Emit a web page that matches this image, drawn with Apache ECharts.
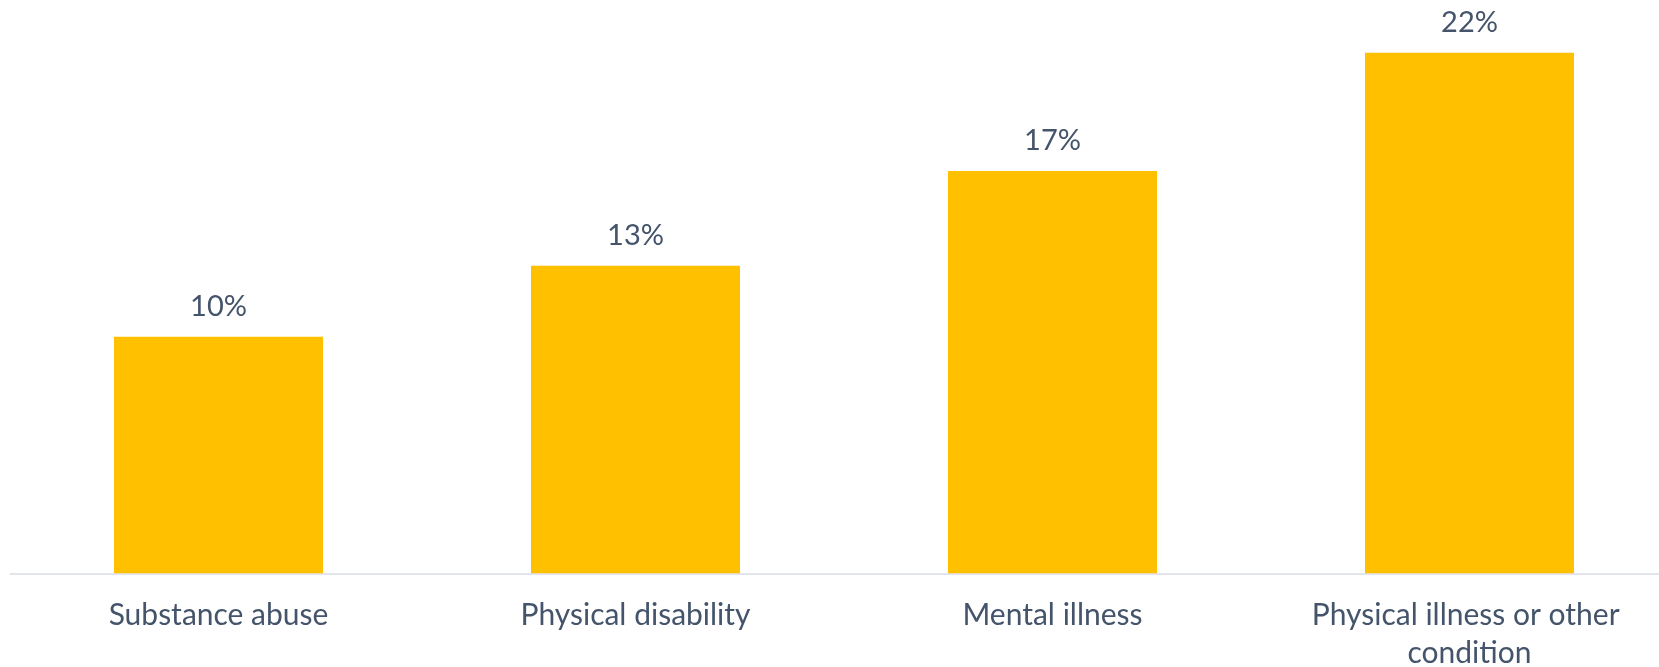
<!DOCTYPE html>
<html><head><meta charset="utf-8">
<script src="https://cdn.jsdelivr.net/npm/echarts@6/dist/echarts.min.js"></script>
<style>html,body{margin:0;padding:0;background:#fff}#c{width:1659px;height:667px}</style>
</head><body><div id="c"></div>
<script>
const categories = ["Substance abuse", "Physical disability", "Mental illness", "Physical illness or other condition"];
const values = [10, 13, 17, 22];

const chart = echarts.init(document.getElementById('c'), null, {renderer: 'canvas'});
chart.setOption({
  animation: false,
  grid: {left: 10, width: 1668, top: 5.5, bottom: 93.7, containLabel: false, outerBoundsMode: 'none'},
  xAxis: {
    type: 'category', data: categories,
    axisLine: {lineStyle: {color: '#D9DEE6', width: 1.5}},
    axisTick: {show: false},
    axisLabel: {color: '#44546A', fontFamily: 'Lato', fontSize: 30, margin: 23, lineHeight: 38,
      width: 360, overflow: 'break', interval: 0}
  },
  yAxis: {type: 'value', min: 0, max: 24, show: false, splitLine: {show: false}},
  series: [{
    type: 'bar', data: values, barWidth: 209,
    itemStyle: {color: '#FFC000'},
    label: {show: true, position: 'top', distance: 13, formatter: '{c}%', color: '#44546A',
      fontFamily: 'Lato', fontSize: 29, lineHeight: 34}
  }]
});
</script></body></html>
